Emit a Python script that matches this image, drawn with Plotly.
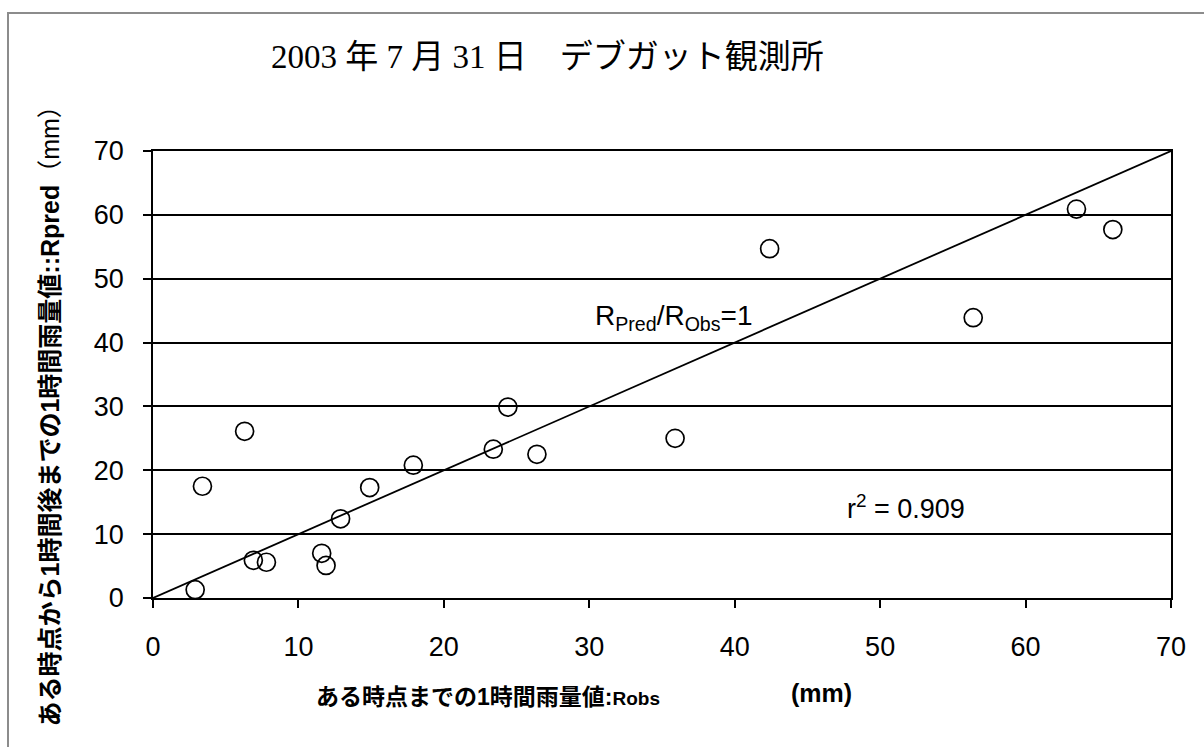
import plotly.graph_objects as go

# Observed vs. predicted hourly rainfall (mm)
r_obs = [2.9, 3.4, 6.3, 6.9, 7.8, 11.6, 11.9, 12.9, 14.9, 17.9, 23.4, 24.4, 26.4,
         35.9, 42.4, 56.4, 63.5, 66.0]
r_pred = [1.3, 17.5, 26.1, 5.9, 5.6, 7.0, 5.1, 12.4, 17.3, 20.8, 23.3, 29.9, 22.5,
          25.0, 54.7, 43.9, 60.9, 57.7]

# 1:1 reference line
ref_x = [0, 70]
ref_y = [0, 70]

ticks = [0, 10, 20, 30, 40, 50, 60, 70]

title_text = "2003 年 7 月 31 日　デブガット観測所"
xtitle_text = "<b>ある時点までの1時間雨量値:<span style='font-size:19px'>Robs</span></b>"
xunit_text = "<b>(mm)</b>"
ytitle_text = "<b>ある時点から1時間後までの1時間雨量値::Rpred</b>（mm）"
ratio_text = "R<sub>Pred</sub>/R<sub>Obs</sub>=1"
r2_text = "r<sup>2</sup> = 0.909"

W, H = 1204, 747
L, R, T, B = 153, 33, 151, 149
PW, PH = W - L - R, H - T - B


def px(xp):
    return (xp - L) / PW


def py(yp):
    return (H - B - yp) / PH


sans = "Liberation Sans, Arial, Noto Sans CJK JP, sans-serif"
serif = "Liberation Serif, Times New Roman, Noto Sans CJK JP, serif"

fig = go.Figure()
fig.add_trace(go.Scatter(
    x=ref_x, y=ref_y, mode="lines",
    line=dict(color="black", width=1.8),
    hoverinfo="skip", showlegend=False,
))
fig.add_trace(go.Scatter(
    x=r_obs, y=r_pred, mode="markers",
    marker=dict(symbol="circle-open", size=18, color="black",
                line=dict(color="black", width=1.7)),
    showlegend=False,
))

axis_common = dict(
    range=[0, 70], tickvals=ticks, ticks="outside", ticklen=8,
    tickwidth=1.8, tickcolor="black", showline=True, linecolor="black",
    linewidth=1.8, mirror=True, zeroline=False,
    tickfont=dict(family=sans, size=27, color="black"),
)

fig.update_xaxes(**axis_common, showgrid=False, ticklabelstandoff=16)
fig.update_yaxes(**axis_common, showgrid=True, gridcolor="black", gridwidth=1.8,
                 ticklabelstandoff=14)

fig.update_layout(
    width=W, height=H,
    margin=dict(l=L, r=R, t=T, b=B),
    paper_bgcolor="white", plot_bgcolor="white",
    shapes=[dict(
        type="rect", xref="paper", yref="paper",
        x0=px(8), x1=px(1300), y0=py(900), y1=py(13),
        line=dict(color="#8c8c8c", width=2), layer="below",
    )],
    annotations=[
        dict(text=title_text, xref="paper", yref="paper", x=px(547), y=py(37),
             showarrow=False, font=dict(family=serif, size=33, color="black")),
        dict(text=xtitle_text, xref="paper", yref="paper", x=px(314), y=py(712),
             xanchor="left", showarrow=False,
             font=dict(family=sans, size=23, color="black")),
        dict(text=xunit_text, xref="paper", yref="paper", x=px(789), y=py(709),
             xanchor="left", showarrow=False,
             font=dict(family=sans, size=25, color="black")),
        dict(text=ytitle_text, xref="paper", yref="paper", x=px(33), y=py(92),
             yanchor="top", textangle=-90, showarrow=False,
             font=dict(family=sans, size=25, color="black")),
        dict(text=ratio_text, x=35.8, y=44.0, showarrow=False,
             font=dict(family=sans, size=28, color="black")),
        dict(text=r2_text, x=51.8, y=14.3, showarrow=False,
             font=dict(family=sans, size=27, color="black")),
    ],
)

fig.write_html("out.html")
